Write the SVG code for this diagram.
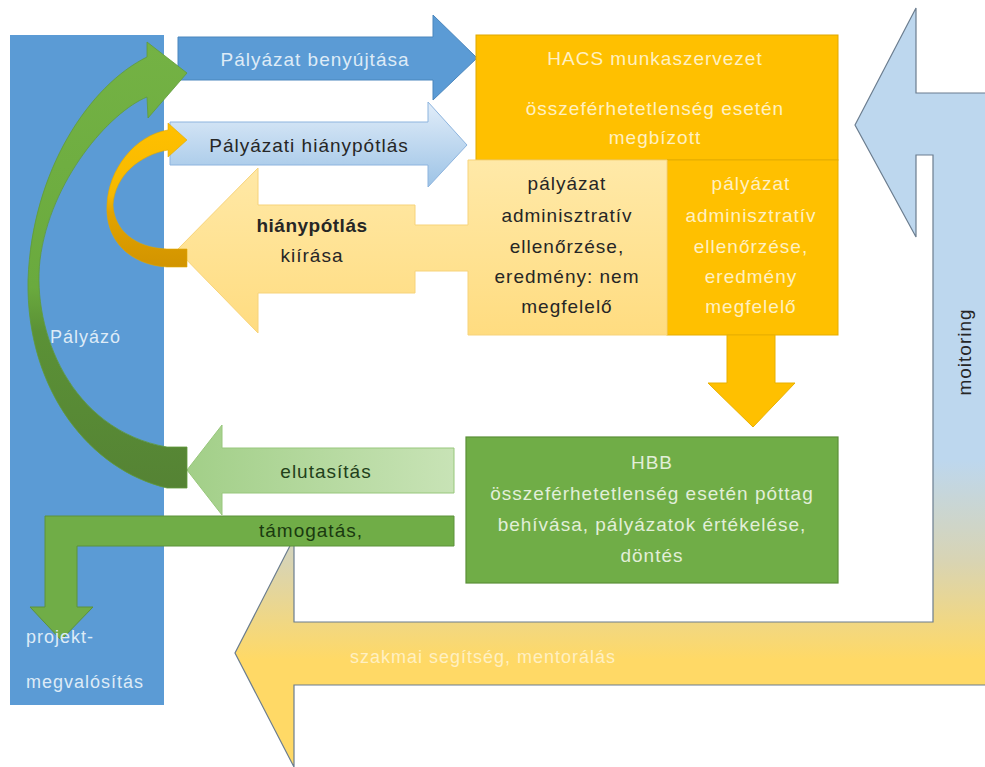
<svg xmlns="http://www.w3.org/2000/svg" width="985" height="767" viewBox="0 0 985 767">
<defs>
<style>
text{font-family:"Liberation Sans",Arial,sans-serif;font-size:19px;letter-spacing:1px;}
.c{text-anchor:middle;}
.lt{fill:#fff0c2;}
.dk{fill:#262626;}
.wb{fill:#deebf7;}
.lg{fill:#e2efd9;}
</style>
<linearGradient id="gMon" gradientUnits="userSpaceOnUse" x1="0" y1="0" x2="0" y2="767">
<stop offset="0" stop-color="#bdd7ee"/>
<stop offset="0.6" stop-color="#bdd7ee"/>
<stop offset="0.73" stop-color="#d8d4b4"/>
<stop offset="0.86" stop-color="#ffd966"/>
<stop offset="1" stop-color="#ffd966"/>
</linearGradient>
<linearGradient id="gHiany" x1="0" y1="0" x2="0" y2="1">
<stop offset="0" stop-color="#e1edf9"/>
<stop offset="1" stop-color="#9dc3e6"/>
</linearGradient>
<linearGradient id="gCall" x1="0" y1="0" x2="0" y2="1">
<stop offset="0" stop-color="#ffe9a8"/>
<stop offset="1" stop-color="#ffdc80"/>
</linearGradient>
<linearGradient id="gElut" x1="0" y1="0" x2="1" y2="0">
<stop offset="0" stop-color="#a2cf88"/>
<stop offset="1" stop-color="#c8e3b6"/>
</linearGradient>
<linearGradient id="gGC" gradientUnits="userSpaceOnUse" x1="0" y1="42" x2="0" y2="488">
<stop offset="0" stop-color="#74b244"/>
<stop offset="0.55" stop-color="#6aaa3e"/>
<stop offset="0.65" stop-color="#5b9136"/>
<stop offset="1" stop-color="#558334"/>
</linearGradient>
<linearGradient id="gYC" gradientUnits="userSpaceOnUse" x1="0" y1="123" x2="0" y2="267">
<stop offset="0" stop-color="#ffc000"/>
<stop offset="0.5" stop-color="#f7b900"/>
<stop offset="0.62" stop-color="#e2a300"/>
<stop offset="1" stop-color="#d29400"/>
</linearGradient>
</defs>
<rect width="985" height="767" fill="#ffffff"/>

<g id="connectors">
<g id="arrow-monitoring">
<path d="M855,125 L916,8 L916,93 L990,93 L990,685 L294,685 L294,767 L235,653 L294,538 L294,622 L933,622 L933,155 L916,155 L916,237 Z" fill="url(#gMon)" stroke="#6b7d8f" stroke-width="1.2"/>
<text x="350" y="663" class="lt" style="font-size:18px">szakmai segítség, mentorálás</text>
<text transform="translate(971,352) rotate(-90)" class="c dk">moitoring</text>
</g>
</g>

<g id="node-palyazo">
<rect x="10" y="35" width="154" height="670" fill="#5b9bd5"/>
<text x="50" y="343" class="wb" style="font-size:18px">Pályázó</text>
</g>

<g id="connectors-2">
<g id="arrow-benyujtas">
<path d="M178,37 L433,37 L433,15 L477,58 L433,100 L433,80 L178,80 Z" fill="#5b9bd5" stroke="#4a86bd" stroke-width="1"/>
<text x="315" y="66" class="c wb">Pályázat benyújtása</text>
</g>
<g id="arrow-hianypotlas">
<path d="M170,122 L428,122 L428,102 L467,145 L428,187 L428,165 L170,165 Z" fill="url(#gHiany)" stroke="#8db4de" stroke-width="1"/>
<text x="309" y="152" class="c dk">Pályázati hiánypótlás</text>
</g>
</g>

<g id="node-hacs">
<rect x="476" y="35" width="362" height="125" fill="#ffc000" stroke="#e0a800" stroke-width="1"/>
<text x="655" y="65" class="c lt">HACS munkaszervezet</text>
<text x="655" y="115" class="c lt">összeférhetetlenség esetén</text>
<text x="655" y="144" class="c lt">megbízott</text>
</g>

<g id="node-megfelelo">
<rect x="667" y="160" width="171" height="175" fill="#ffc000" stroke="#e6ad00" stroke-width="1"/>
<text x="751" y="190" class="c lt">pályázat</text>
<text x="751" y="222" class="c lt">adminisztratív</text>
<text x="751" y="253" class="c lt">ellenőrzése,</text>
<text x="751" y="283" class="c lt">eredmény</text>
<text x="751" y="313" class="c lt">megfelelő</text>
</g>

<g id="node-nem-megfelelo">
<path d="M468,160 L667,160 L667,335 L468,335 L468,271 L415,271 L415,293 L258,293 L258,333 L177,250 L258,168 L258,205 L415,205 L415,225 L468,225 Z" fill="url(#gCall)" stroke="#f7d37a" stroke-width="1"/>
<text x="567" y="190" class="c dk">pályázat</text>
<text x="567" y="222" class="c dk">adminisztratív</text>
<text x="567" y="253" class="c dk">ellenőrzése,</text>
<text x="567" y="283" class="c dk">eredmény: nem</text>
<text x="567" y="313" class="c dk">megfelelő</text>
<text x="312" y="232" class="c dk" style="font-weight:bold;letter-spacing:0.5px">hiánypótlás</text>
<text x="312" y="262" class="c dk">kiírása</text>
</g>

<g id="connectors-3">
<path id="arrow-down" d="M727,335 L775,335 L775,383 L795,383 L753,427 L708,383 L727,383 Z" fill="#ffc000" stroke="#e9b000" stroke-width="1"/>
</g>

<g id="node-hbb">
<rect x="466" y="437" width="372" height="146" fill="#70ad47" stroke="#5a8f38" stroke-width="1.2"/>
<text x="652" y="469" class="c lg">HBB</text>
<text x="652" y="500" class="c lg">összeférhetetlenség esetén póttag</text>
<text x="652" y="531" class="c lg">behívása, pályázatok értékelése,</text>
<text x="652" y="562" class="c lg">döntés</text>
</g>

<g id="connectors-4">
<g id="arrow-elutasitas">
<path d="M454,448 L222,448 L222,425 L187,470 L222,515 L222,493 L454,493 Z" fill="url(#gElut)" stroke="#98c77c" stroke-width="1"/>
<text x="326" y="478" class="c" style="fill:#22401a">elutasítás</text>
</g>
<g id="arrow-tamogatas">
<path d="M454,516 L454,546 L77,546 L77,607 L93,607 L61,640 L30,607 L45,607 L45,516 Z" fill="#70ad47" stroke="#5c923a" stroke-width="1"/>
<text x="311" y="537" class="c" style="fill:#1a3a10">támogatás,</text>
</g>
<g id="arrow-curve-green">
<path d="M147,57 L147,42 L187,73 L148,118 L147,97 C110,112 50,180 40,260 C32,330 70,430 167,447 L187,447 L187,488 L167,488 C90,470 26,390 28,280 C32,170 90,85 147,57 Z" fill="url(#gGC)" stroke="#5f9a3a" stroke-width="0.8"/>
</g>
<g id="arrow-curve-yellow">
<path d="M168,130 L168,123 L187,140 L168,157 L168,150 C140,155 115,175 113,205 C114,230 135,248 167,249 L187,249 L187,267 L167,267 C130,265 105,240 107,205 C108,170 135,135 168,130 Z" fill="url(#gYC)" stroke="#e0a800" stroke-width="0.6"/>
</g>
</g>

<g id="palyazo-labels">
<text x="26" y="643" class="wb" style="font-size:18px">projekt-</text>
<text x="26" y="688" class="wb" style="font-size:18px">megvalósítás</text>
</g>
</svg>
